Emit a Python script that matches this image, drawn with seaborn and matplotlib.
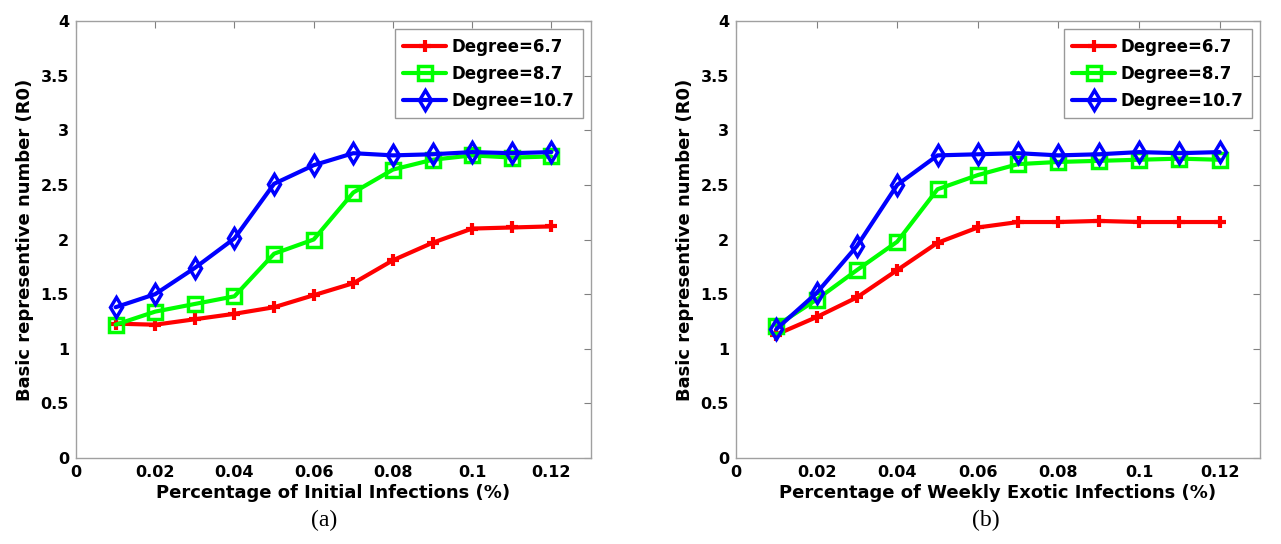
import numpy as np
import pandas as pd
import seaborn as sns
from matplotlib import pyplot as plt

# x values shared by both panels (%)
pct = [0.01, 0.02, 0.03, 0.04, 0.05, 0.06, 0.07, 0.08, 0.09, 0.10, 0.11, 0.12]

# panel (a): initial infections
a_deg67 = [1.23, 1.22, 1.27, 1.32, 1.38, 1.49, 1.60, 1.81, 1.97, 2.10, 2.11, 2.12]
a_deg87 = [1.22, 1.34, 1.41, 1.48, 1.87, 2.00, 2.43, 2.64, 2.73, 2.77, 2.75, 2.76]
a_deg107 = [1.38, 1.50, 1.74, 2.01, 2.51, 2.68, 2.79, 2.77, 2.78, 2.80, 2.79, 2.80]

# panel (b): weekly exotic infections
b_deg67 = [1.13, 1.29, 1.47, 1.72, 1.97, 2.11, 2.16, 2.16, 2.17, 2.16, 2.16, 2.16]
b_deg87 = [1.21, 1.45, 1.72, 1.98, 2.46, 2.59, 2.69, 2.71, 2.72, 2.73, 2.74, 2.73]
b_deg107 = [1.18, 1.51, 1.94, 2.50, 2.77, 2.78, 2.79, 2.77, 2.78, 2.80, 2.79, 2.80]

labels = ["Degree=6.7", "Degree=8.7", "Degree=10.7"]
x_labels = ["Percentage of Initial Infections (%)", "Percentage of Weekly Exotic Infections (%)"]
captions = ["(a)", "(b)"]

sns.set_style("white")
plt.rcParams["font.family"] = ["DejaVu Sans"]
plt.rcParams["font.weight"] = "bold"
plt.rcParams["text.color"] = "black"
plt.rcParams["axes.labelcolor"] = "black"
plt.rcParams["xtick.labelcolor"] = "black"
plt.rcParams["ytick.labelcolor"] = "black"

colors = ["#ff0000", "#00ff00", "#0000ff"]
markers = ["+", "s", "d"]

fig = plt.figure(figsize=(12.81, 5.44), dpi=100)
ax_a = fig.add_axes([76 / 1281, 1 - 458 / 544, 515 / 1281, 437 / 544])
ax_b = fig.add_axes([736 / 1281, 1 - 458 / 544, 524 / 1281, 437 / 544])

panels = [
    (ax_a, [a_deg67, a_deg87, a_deg107]),
    (ax_b, [b_deg67, b_deg87, b_deg107]),
]

for i, (ax, series) in enumerate(panels):
    for vals, lab, col, mk in zip(series, labels, colors, markers):
        df = pd.DataFrame({"pct": pct, "r0": vals})
        if mk == "+":
            sns.lineplot(data=df, x="pct", y="r0", ax=ax, color=col, lw=3,
                         marker="+", markersize=9, mew=3, mec=col, label=lab)
        else:
            sns.lineplot(data=df, x="pct", y="r0", ax=ax, color=col, lw=3,
                         marker=mk, markersize=10, mew=2.5, mec=col, mfc="none", label=lab)
    ax.set_xlim(0, 0.13)
    ax.set_ylim(0, 4)
    ax.set_xticks([0, 0.02, 0.04, 0.06, 0.08, 0.1, 0.12])
    ax.set_xticklabels(["0", "0.02", "0.04", "0.06", "0.08", "0.1", "0.12"])
    ax.set_yticks(np.arange(0, 4.01, 0.5))
    ax.set_yticklabels(["0", "0.5", "1", "1.5", "2", "2.5", "3", "3.5", "4"])
    ax.tick_params(direction="in", length=5, width=0.8, color="#808080",
                   top=True, right=True, labelsize=11.5, pad=5, labelcolor="black")
    for t in ax.get_xticklabels() + ax.get_yticklabels():
        t.set_fontweight("bold")
    for sp in ax.spines.values():
        sp.set_color("#a0a0a0")
        sp.set_linewidth(1)
    ax.set_xlabel(x_labels[i], fontsize=13, fontweight="bold", labelpad=3)
    ax.set_ylabel("Basic representive number (R0)", fontsize=13, fontweight="bold", labelpad=5)
    leg = ax.legend(loc="upper right", fontsize=12, frameon=True, fancybox=False,
                    handlelength=2.6, handletextpad=0.3, borderaxespad=0.5,
                    labelspacing=0.55, borderpad=0.5)
    leg.get_frame().set_edgecolor("#808080")
    leg.get_frame().set_linewidth(1)
    for t in leg.get_texts():
        t.set_fontweight("bold")
        t.set_color("black")

fig.text(324 / 1281, 1 - 520 / 544, captions[0], ha="center", va="center",
         fontsize=17, fontweight="normal", family="Liberation Serif")
fig.text(986 / 1281, 1 - 520 / 544, captions[1], ha="center", va="center",
         fontsize=17, fontweight="normal", family="Liberation Serif")

fig.savefig("out.png", dpi=100)
